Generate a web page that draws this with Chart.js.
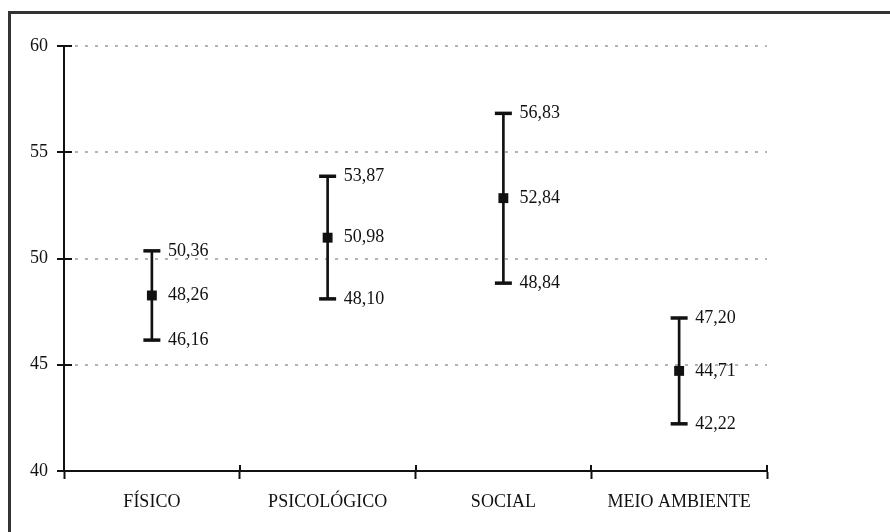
<!DOCTYPE html>
<html>
<head>
<meta charset="utf-8">
<script src="https://cdn.jsdelivr.net/npm/chart.js@4.4.1/dist/chart.umd.min.js"></script>
<style>
  html, body { margin: 0; padding: 0; background: #fff; }
  #wrap { position: relative; width: 890px; height: 532px; }
</style>
</head>
<body>
<div id="wrap"><canvas id="ic-chart"></canvas></div>
<script>
var categories = ["FÍSICO", "PSICOLÓGICO", "SOCIAL", "MEIO AMBIENTE"];
var means = [48.26, 50.98, 52.84, 44.71];
var lower = [46.16, 48.10, 48.84, 42.22];
var upper = [50.36, 53.87, 56.83, 47.20];
var yTicks = [40, 45, 50, 55, 60];

var serif = "'Liberation Serif', 'DejaVu Serif', serif";

function fmt(v) {
    return v.toFixed(2).replace(".", ",");
}

// outer frame (only top and left edges show in the picture)
var framePlugin = {
    id: "frame",
    beforeDraw: function (chart) {
        var ctx = chart.ctx;
        ctx.save();
        ctx.strokeStyle = "#333";
        ctx.lineWidth = 3;
        ctx.strokeRect(9.5, 12.5, 1000, 1000);
        ctx.restore();
    }
};

// tick marks that cross into the plot area, plus value labels
var extrasPlugin = {
    id: "extras",
    afterDraw: function (chart) {
        var ctx = chart.ctx;
        var ys = chart.scales.y;
        var area = chart.chartArea;
        ctx.save();
        ctx.strokeStyle = "#111";
        ctx.lineWidth = 2;
        yTicks.forEach(function (v) {
            var py = Math.round(ys.getPixelForValue(v));
            ctx.beginPath();
            ctx.moveTo(area.left, py);
            ctx.lineTo(area.left + 8, py);
            ctx.stroke();
        });
        var w = (area.right - area.left) / categories.length;
        for (var i = 0; i <= categories.length; i++) {
            var px = Math.round(area.left + i * w);
            ctx.beginPath();
            ctx.moveTo(px, area.bottom - 6);
            ctx.lineTo(px, area.bottom);
            ctx.stroke();
        }

        ctx.fillStyle = "#111";
        ctx.font = "18px " + serif;
        ctx.textAlign = "left";
        ctx.textBaseline = "middle";
        [1, 2, 3].forEach(function (di) {
            var meta = chart.getDatasetMeta(di);
            var vals = chart.data.datasets[di].data;
            meta.data.forEach(function (pt, j) {
                ctx.fillText(fmt(vals[j]), pt.x + 16, pt.y);
            });
        });
        ctx.restore();
    }
};

new Chart(document.getElementById("ic-chart"), {
    type: "bar",
    data: {
        labels: categories,
        datasets: [{
            label: "IC 95%",
            data: lower.map(function (l, i) { return [l, upper[i]]; }),
            backgroundColor: "#111",
            barThickness: 2,
            order: 5
        }, {
            type: "line",
            label: "Limite superior",
            data: upper,
            showLine: false,
            pointStyle: "line",
            pointRadius: 8.5,
            pointBorderWidth: 3.5,
            pointBorderColor: "#111",
            order: 2
        }, {
            type: "line",
            label: "Média",
            data: means,
            showLine: false,
            pointStyle: "rect",
            pointRadius: 7,
            pointBackgroundColor: "#111",
            pointBorderColor: "#111",
            pointBorderWidth: 0,
            order: 1
        }, {
            type: "line",
            label: "Limite inferior",
            data: lower,
            showLine: false,
            pointStyle: "line",
            pointRadius: 8.5,
            pointBorderWidth: 3.5,
            pointBorderColor: "#111",
            order: 2
        }]
    },
    plugins: [framePlugin, extrasPlugin],
    options: {
        responsive: true,
        maintainAspectRatio: false,
        animation: false,
        layout: { padding: { left: 0, top: 46, right: 123, bottom: 0 } },
        plugins: {
            legend: { display: false },
            tooltip: { enabled: false }
        },
        scales: {
            x: {
                offset: true,
                grid: {
                    offset: true,
                    drawOnChartArea: false,
                    drawTicks: true,
                    tickLength: 8,
                    tickColor: "#111",
                    tickWidth: 2
                },
                border: { color: "#111", width: 2 },
                ticks: {
                    color: "#111",
                    padding: 12,
                    font: { family: serif, size: 18 }
                },
                afterFit: function (s) { s.height = 61; }
            },
            y: {
                min: 40,
                max: 60,
                afterBuildTicks: function (s) {
                    s.ticks = yTicks.map(function (v) { return { value: v }; });
                },
                grid: {
                    color: function (c) { return c.tick && c.tick.value === 40 ? "rgba(0,0,0,0)" : "#b4b4b4"; },
                    lineWidth: 2,
                    drawTicks: true,
                    tickLength: 7,
                    tickColor: "#111",
                    tickWidth: 2,
                    tickBorderDash: []
                },
                border: { color: "#111", width: 2, dash: [3, 7], dashOffset: -10 },
                ticks: {
                    color: "#111",
                    padding: 9,
                    font: { family: serif, size: 18 }
                },
                afterFit: function (s) { s.width = 64; }
            }
        }
    }
});
</script>
</body>
</html>
